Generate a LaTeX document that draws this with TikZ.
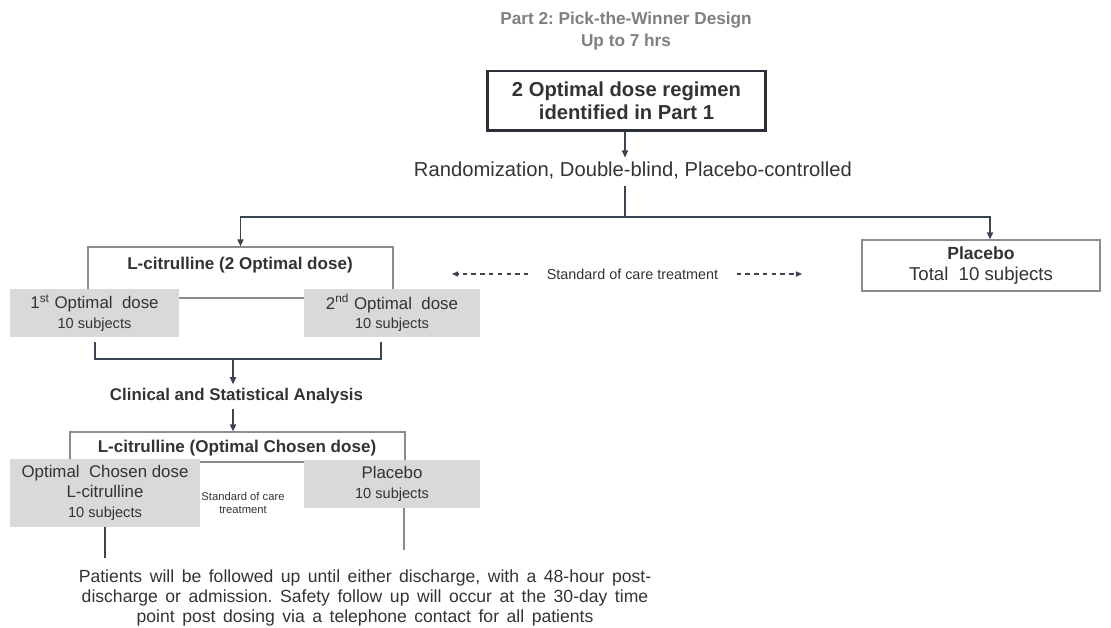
\documentclass[tikz,border=0pt]{standalone}
\usepackage{fontspec}
\setmainfont{Liberation Sans}
\usetikzlibrary{arrows.meta,calc}
\definecolor{ink}{HTML}{333333}
\definecolor{linec}{HTML}{3B4552}
\definecolor{boxgray}{HTML}{D9D9D9}
\definecolor{titlegray}{HTML}{7F7F7F}
\definecolor{framegray}{HTML}{8C8C8C}
\definecolor{topframe}{HTML}{2B3038}
\newcommand{\fs}[2]{\fontsize{#1}{#2}\selectfont}
\newcommand{\widesp}{\spaceskip=4.3pt plus 1pt minus 0.5pt\relax}
\frenchspacing
\begin{document}
\begin{tikzpicture}[x=0.02cm,y=-0.02cm,
  txt/.style={text=ink,align=center,inner sep=0pt},
  graybox/.style={fill=boxgray,text=ink,align=center,inner sep=0pt},
  thinframe/.style={draw=framegray,line width=0.7pt,inner sep=0pt},
  ln/.style={linec,line width=0.8pt},
  arr/.style={linec,line width=0.8pt,-{Triangle[length=4pt,width=3.5pt]}},
  dasharr/.style={linec,line width=0.6pt,dash pattern=on 2.5pt off 2.5pt,-{Triangle[length=3.5pt,width=3pt]}}]
\useasboundingbox (0,0) rectangle (1111,628);

% title
\node[txt,text=titlegray,font=\fs{9.8}{12.5}\bfseries] (title) at (626,31) {Part 2: Pick-the-Winner Design\\Up to 7 hrs};

% top box and randomization
\node[txt,draw=topframe,line width=1.7pt,minimum width=5.58cm,minimum height=1.2cm,font=\fs{11.5}{13}\bfseries] (regimen) at (626.5,101)
  {2 Optimal dose regimen\\identified in Part 1};
\node[txt,font=\fs{11.5}{13}] (rand) at (633,170) {Randomization, Double-blind, Placebo-controlled};
\coordinate (split) at (625,217);
\draw[arr] (regimen.south -| split) -- ([yshift=2pt]rand.north -| split);
\draw[ln] ([yshift=-4pt]rand.south -| split) -- (split);

% first stage
\node[thinframe,minimum width=6.1cm,minimum height=1.02cm] (citA) at (240.5,272.5) {};
\node[txt,font=\fs{9.7}{11}\bfseries] (citAtitle) at (240,265) {L-citrulline (2 Optimal dose)};
\node[graybox,minimum width=3.38cm,minimum height=0.96cm,font=\fs{9.6}{11}] (dose1) at (94.5,313)
  {1\textsuperscript{st} Optimal\ \ dose\\{\fs{8.3}{11}10 subjects}};
\node[graybox,minimum width=3.52cm,minimum height=0.96cm,font=\fs{9.6}{11}] (dose2) at (392,313)
  {2\textsuperscript{nd} Optimal\ \ dose\\{\fs{8.3}{11}10 subjects}};
\node[txt,draw=framegray,line width=0.7pt,minimum width=4.76cm,minimum height=1.02cm,font=\fs{10.6}{11.5}] (plac) at (981,265.5)
  {{\fs{10}{11.5}\bfseries Placebo}\\Total\ \ 10 subjects};
\draw[arr] (split) -| (citA.north);
\draw[arr] (split) -| ([xshift=0.18cm]plac.north);

% standard of care between arms
\node[txt,font=\fs{8.2}{10}] (soc) at (632.5,274) {Standard of care treatment};
\coordinate (socL) at (452,274);
\coordinate (socR) at (802,274);
\draw[dasharr] ([xshift=-0.36cm]soc.west) -- (socL);
\draw[dasharr] ([xshift=0.36cm]soc.east) -- (socR);

% analysis
\coordinate (join) at (233,359);
\draw[ln] ($(dose1.south)+(0.5,5)$) |- (join) -| ($(dose2.south)+(-11,5)$);
\node[txt,font=\fs{9.6}{11}\bfseries] (analysis) at (236.5,396) {Clinical and Statistical Analysis};
\draw[arr] (join) -- ([yshift=2pt]analysis.north -| join);

% second stage
\node[thinframe,minimum width=6.7cm,minimum height=0.6cm] (citB) at (237.5,447) {};
\node[txt,font=\fs{9.7}{11}\bfseries] (citBtitle) at (237,448) {L-citrulline (Optimal Chosen dose)};
\draw[arr] ([yshift=-3pt]analysis.south -| join) -- (citB.north -| join);
\node[graybox,minimum width=3.8cm,minimum height=1.36cm,font=\fs{9.6}{11.2}] (chosen) at (105,493)
  {Optimal\ \ Chosen dose\\L-citrulline\\{\fs{8.3}{11.2}10 subjects}};
\node[graybox,minimum width=3.52cm,minimum height=0.96cm,font=\fs{9.6}{11}] (placB) at (392,484)
  {Placebo\\{\fs{8.3}{11}10 subjects}};
\node[txt,font=\fs{6.4}{7.5}] (socB) at (243,503) {Standard of care\\treatment};

% follow up
\coordinate (endA) at (105,558);
\coordinate (endB) at (404,550);
\draw[ln] (chosen.south) -- (endA);
\draw[ln,framegray,line width=1pt] (placB.south -| endB) -- (endB);
\node[txt,font=\fs{10}{11.3}\widesp] (follow) at (365,598)
  {Patients will be followed up until either discharge, with a 48-hour post-\\
  discharge or admission. Safety follow up will occur at the 30-day time\\
  point post dosing via a telephone contact for all patients};
\end{tikzpicture}
\end{document}
